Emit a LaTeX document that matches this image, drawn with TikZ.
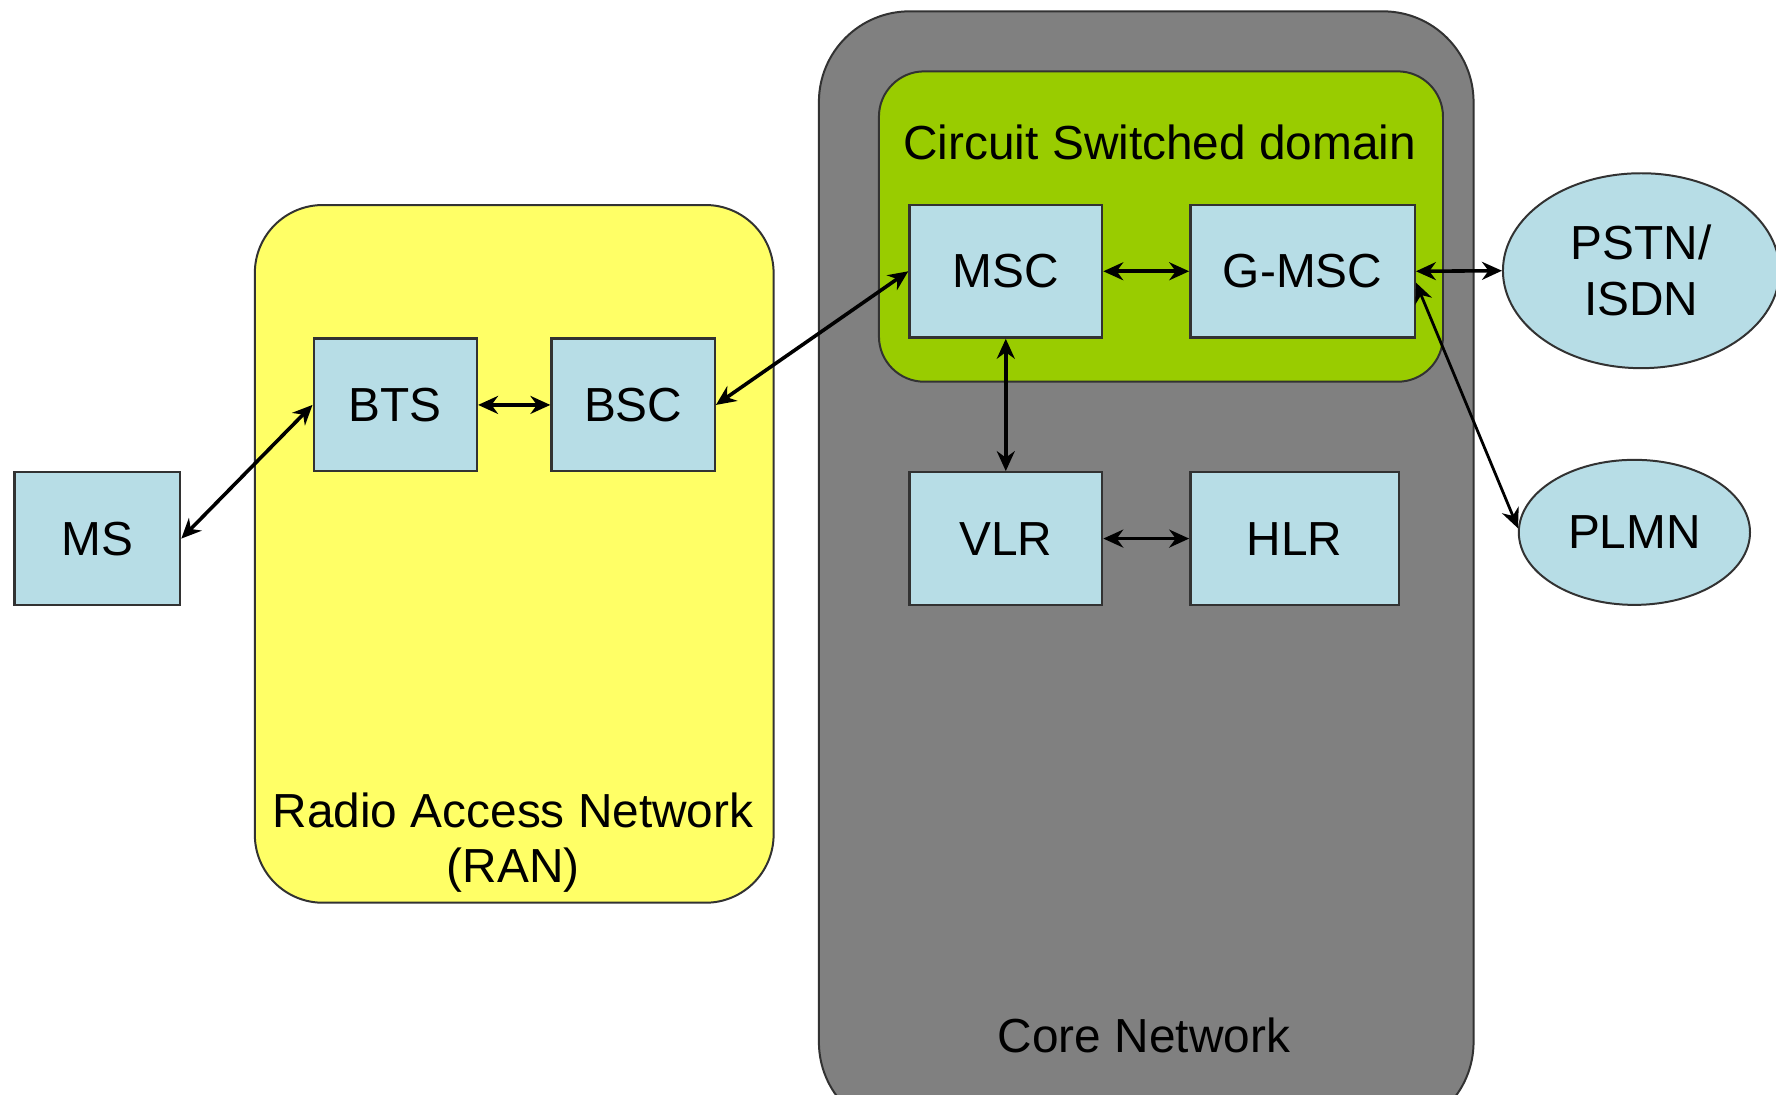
\documentclass[tikz,border=0pt]{standalone}
\usepackage{fontspec}
\setmainfont{Liberation Sans}
\usetikzlibrary{arrows.meta,shapes.geometric}
\definecolor{boxblue}{RGB}{183,221,230}
\definecolor{ranyellow}{RGB}{255,255,102}
\definecolor{coregray}{RGB}{128,128,128}
\definecolor{csgreen}{RGB}{153,204,0}
\definecolor{edge}{RGB}{50,50,50}
\tikzset{
  elem/.style={draw=edge, line width=0.6pt, fill=boxblue, inner sep=0pt, minimum height=1.17cm, font=\fontsize{12}{14}\selectfont},
  cloud/.style={ellipse, draw=edge, line width=0.5pt, fill=boxblue, inner sep=0pt, font=\fontsize{12}{14}\selectfont, align=center},
  link/.style={{Stealth[length=5pt,width=4.5pt]}-{Stealth[length=5pt,width=4.5pt]}, line width=0.9pt, black},
  region/.style={draw=edge, line width=0.5pt},
  lbl/.style={font=\fontsize{12}{14}\selectfont, align=center, inner sep=0pt}
}
\begin{document}
\begin{tikzpicture}[x=0.01cm,y=-0.01cm]
\useasboundingbox (0,0) rectangle (1568,966);
\clip (0,0) rectangle (1568,966);
\fill[white] (0,0) rectangle (1568,966);
% regions
\draw[region, fill=ranyellow, rounded corners=0.6cm] (225,181) rectangle (683,797);
\draw[region, fill=coregray, rounded corners=0.8cm] (723,10) rectangle (1301,1000);
\draw[region, fill=csgreen, rounded corners=0.4cm] (776,63) rectangle (1274,337);
\node[lbl] (ranlbl) at (453,744) {Radio Access Network\\[0pt](RAN)};
\node[lbl] (corelbl) at (1010,914) {Core Network};
\node[lbl] (cslbl) at (1024,126) {Circuit Switched domain};
% elements
\node[elem, minimum width=1.46cm] (ms) at (86,475.5) {MS};
\node[elem, minimum width=1.44cm] (bts) at (349,357.5) {BTS};
\node[elem, minimum width=1.44cm] (bsc) at (559,357.5) {BSC};
\node[elem, minimum width=1.70cm] (msc) at (888,239.5) {MSC};
\node[elem, minimum width=1.98cm] (gmsc) at (1150,239.5) {G-MSC};
\node[elem, minimum width=1.70cm] (vlr) at (888,475.5) {VLR};
\node[elem, minimum width=1.84cm] (hlr) at (1143,475.5) {HLR};
\node[cloud, minimum width=2.44cm, minimum height=1.72cm] (pstn) at (1449,239) {PSTN/\\ISDN};
\node[cloud, minimum width=2.04cm, minimum height=1.28cm] (plmn) at (1443,470) {PLMN};
% links
\draw[link] (ms.east) -- (bts.west);
\draw[link] (bts) -- (bsc);
\draw[link] (bsc.east) -- (msc.west);
\draw[link] (msc) -- (gmsc);
\draw[link] (gmsc.east) -- (pstn.west);
\draw[link, line width=0.7pt] ([yshift=-0.1cm]gmsc.east) -- (plmn.178);
\draw[link] (msc) -- (vlr);
\draw[link] (vlr) -- (hlr);
\end{tikzpicture}
\end{document}
